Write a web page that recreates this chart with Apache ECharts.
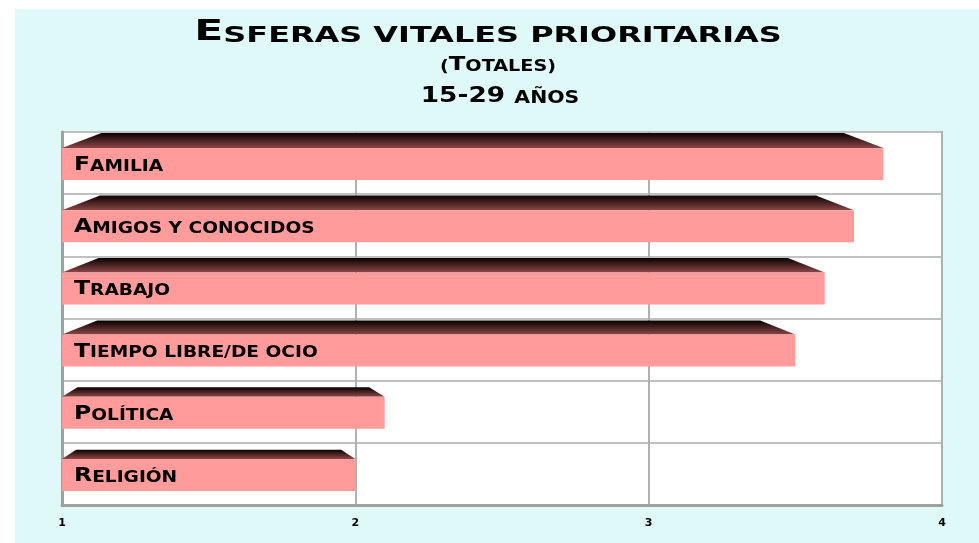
<!DOCTYPE html>
<html>
<head>
<meta charset="utf-8">
<script src="https://cdn.jsdelivr.net/npm/echarts@6/dist/echarts.min.js"></script>
<style>
  html, body { margin: 0; padding: 0; background: #ffffff; }
  #main { position: absolute; left: 15px; top: 9px; width: 964px; height: 534px; background: #dff8f8; }
</style>
</head>
<body>
<div id="main"></div>
<script>
var categories = ['Familia', 'Amigos y conocidos', 'Trabajo', 'Tiempo libre/de ocio', 'Política', 'Religión'];
var values = [3.8, 3.7, 3.6, 3.5, 2.1, 2.0];
var xTicks = [1, 2, 3, 4];
var titleLines = ['Esferas vitales prioritarias', '(Totales)', '15-29 años'];

// fake small caps: capitals / digits big, lower case letters upper-cased and smaller
function smallCaps(str) {
	var out = '', run = '', big = null;
	for (var i = 0; i < str.length; i++) {
		var ch = str[i];
		var isSmall = ch !== ch.toUpperCase();
		var isBig = !isSmall && ch !== ' ' && ch !== '(' && ch !== ')' && ch !== '/' && ch !== '-';
		var kind = isSmall ? false : (isBig ? true : (big === null ? false : big));
		if (big !== null && kind !== big) {
			out += '{' + (big ? 'b' : 's') + '|' + run + '}';
			run = '';
		}
		big = kind;
		run += ch.toUpperCase();
	}
	if (run) out += '{' + (big ? 'b' : 's') + '|' + run + '}';
	return out;
}

var myChart = echarts.init(document.getElementById('main'));

function renderBar(params, api) {
	var idx = api.value(0);
	var val = api.value(1);
	var start = api.coord([xTicks[0], idx]);
	var end = api.coord([val, idx]);
	var x0 = start[0], x1 = end[0];
	var yc = start[1] + 1;
	var h = 32;
	var len = x1 - x0;
	var inset = len * 0.048;
	var depth = 6 + len * 0.011;
	var top = yc - h / 2;
	return {
		type: 'group',
		children: [{
			type: 'polygon',
			shape: { points: [[x0, top], [x0 + inset, top - depth], [x1 - inset, top - depth], [x1, top]] },
			style: {
				fill: new echarts.graphic.LinearGradient(0, 0, 0, 1, [
					{ offset: 0, color: '#0a0000' },
					{ offset: 1, color: '#8c4646' }
				])
			}
		}, {
			type: 'rect',
			shape: { x: x0, y: top, width: len, height: h },
			style: { fill: '#ff9b9b' }
		}, {
			type: 'text',
			x: x0 + 12,
			y: yc + 1,
			scaleX: 1.24,
			style: {
				text: smallCaps(categories[idx]),
				verticalAlign: 'middle',
				align: 'left',
				fill: '#000',
				rich: {
					b: { fontFamily: 'DejaVu Sans', fontWeight: 'bold', fontSize: 19, lineHeight: 19, verticalAlign: 'bottom', fill: '#000' },
					s: { fontFamily: 'DejaVu Sans', fontWeight: 'bold', fontSize: 15, lineHeight: 19, verticalAlign: 'bottom', fill: '#000' }
				}
			}
		}]
	};
}

var titleRich = function (b, s) {
	return {
		b: { fontFamily: 'DejaVu Sans', fontWeight: 'bold', fontSize: b, verticalAlign: 'bottom', lineHeight: b, fill: '#000' },
		s: { fontFamily: 'DejaVu Sans', fontWeight: 'bold', fontSize: s, verticalAlign: 'bottom', lineHeight: b, fill: '#000' }
	};
};

option = {
	animation: false,
	graphic: [{
		type: 'text', x: 473, y: 24, scaleX: 1.52,
		style: { text: smallCaps(titleLines[0]), align: 'center', verticalAlign: 'middle', rich: titleRich(28, 21) }
	}, {
		type: 'text', x: 483, y: 56, scaleX: 1.28,
		style: { text: smallCaps(titleLines[1]), align: 'center', verticalAlign: 'middle', rich: titleRich(19, 15) }
	}, {
		type: 'text', x: 485, y: 87, scaleX: 1.2,
		style: { text: smallCaps(titleLines[2]), align: 'center', verticalAlign: 'middle', rich: titleRich(22, 17) }
	}],
	grid: {
		left: 47,
		right: 37,
		top: 123,
		bottom: 38,
		show: true,
		backgroundColor: '#ffffff',
		borderColor: '#a6a6a6',
		borderWidth: 2
	},
	xAxis: {
		type: 'value',
		min: 1,
		max: 4,
		interval: 1,
		axisLine: { show: true, lineStyle: { color: '#a0a0a0', width: 3 } },
		axisTick: { show: false },
		axisLabel: {
			margin: 13,
			fontFamily: 'DejaVu Sans',
			fontWeight: 'bold',
			fontSize: 11,
			color: '#000'
		},
		splitLine: { show: true, lineStyle: { color: '#b0b0b0', width: 2 } }
	},
	yAxis: {
		type: 'category',
		inverse: true,
		data: categories,
		axisLine: { show: true, lineStyle: { color: '#a0a0a0', width: 3 } },
		axisTick: { show: false },
		axisLabel: { show: false },
		splitLine: { show: true, lineStyle: { color: '#c0c0c0', width: 2 } }
	},
	series: [{
		type: 'custom',
		renderItem: renderBar,
		encode: { x: 1, y: 0 },
		data: categories.map(function (c, i) { return [i, values[i]]; })
	}]
};

myChart.setOption(option);
window.onresize = function () { myChart.resize(); };
</script>
</body>
</html>
